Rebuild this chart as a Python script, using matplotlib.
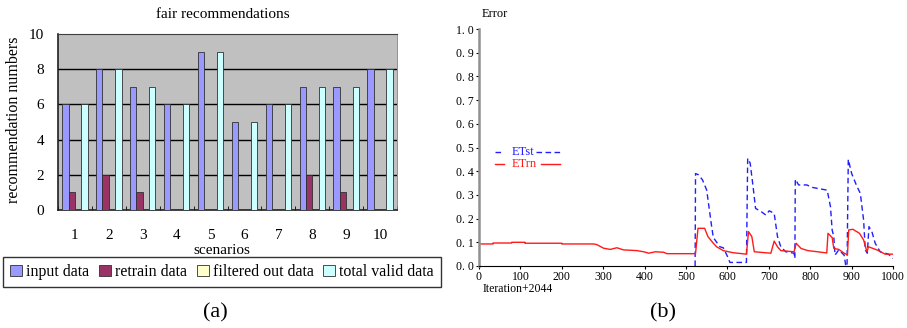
import matplotlib
matplotlib.use("Agg")
import matplotlib.pyplot as plt
from matplotlib.lines import Line2D
import numpy as np

# ---------------- data: panel (a) ----------------
scenarios = [1, 2, 3, 4, 5, 6, 7, 8, 9, 10]
input_data = [6, 8, 7, 6, 9, 5, 6, 7, 7, 8]
retrain_data = [1, 2, 1, 0, 0, 0, 0, 2, 1, 0]
filtered_out_data = [0, 0, 0, 0, 0, 0, 0, 0, 0, 0]
total_valid_data = [6, 8, 7, 6, 9, 5, 6, 7, 7, 8]
series_names = ["input data", "retrain data", "filtered out data", "total valid data"]
series_colors = ["#9999ff", "#993366", "#ffffcc", "#ccffff"]

# ---------------- data: panel (b) ----------------
etrn_x = [0, 34, 34, 79, 79, 111, 111, 200, 200, 277, 285, 301, 317, 333, 349, 381, 398, 410, 426,
          446, 454, 523, 529, 545, 553, 566, 574, 590, 614, 646, 651, 659, 665, 705, 713, 721,
          729, 761, 766, 778, 794, 818, 840, 843, 853, 857, 869, 882, 890, 893, 903, 919, 929,
          937, 941, 961, 981, 1000]
etrn_y = [0.093, 0.093, 0.097, 0.097, 0.1, 0.1, 0.096, 0.096, 0.093, 0.093, 0.09, 0.075, 0.07, 0.077,
          0.068, 0.065, 0.06, 0.054, 0.06, 0.058, 0.052, 0.052, 0.159, 0.159, 0.124, 0.096, 0.081,
          0.065, 0.056, 0.05, 0.145, 0.124, 0.06, 0.054, 0.105, 0.081, 0.065, 0.06, 0.096, 0.074,
          0.065, 0.06, 0.055, 0.138, 0.12, 0.074, 0.07, 0.054, 0.047, 0.152, 0.155, 0.138, 0.11,
          0.06, 0.081, 0.068, 0.05, 0.05]
etst_x = [522, 523, 530, 540, 550, 562, 566, 582, 590, 602, 606, 646, 649, 655, 662, 668, 681, 693,
          701, 713, 721, 729, 741, 761, 763, 764, 772, 792, 804, 841, 849, 853, 857, 860, 869, 882,
          886, 889, 892, 900, 913, 921, 929, 933, 938, 942, 949, 957, 969, 989, 1000]
etst_y = [0.0, 0.39, 0.385, 0.363, 0.32, 0.166, 0.12, 0.081, 0.077, 0.034, 0.015, 0.015, 0.454, 0.434,
          0.335, 0.243, 0.23, 0.215, 0.233, 0.222, 0.124, 0.081, 0.06, 0.054, 0.032, 0.366, 0.342,
          0.342, 0.332, 0.32, 0.25, 0.152, 0.124, 0.046, 0.068, 0.046, 0.0, 0.0, 0.45, 0.391, 0.335,
          0.307, 0.194, 0.068, 0.054, 0.166, 0.145, 0.096, 0.06, 0.05, 0.032]
x_ticks_b = [0, 100, 200, 300, 400, 500, 600, 700, 800, 900, 1000]
y_ticks_b = [0.0, 0.1, 0.2, 0.3, 0.4, 0.5, 0.6, 0.7, 0.8, 0.9, 1.0]

W, H = 907, 328
plt.rcParams["font.family"] = ["Liberation Serif", "DejaVu Serif"]
fig = plt.figure(figsize=(W / 100, H / 100), dpi=100)


def fx(px):
    return px / W


def fy(py):
    return 1 - py / H


# ---------------- panel (a) ----------------
ax = fig.add_axes([fx(58), fy(210), fx(397) - fx(58), fy(34) - fy(210)])
ax.set_facecolor("#c0c0c0")
bw = 0.1875
pos = np.array(scenarios, dtype=float)
allvals = [input_data, retrain_data, filtered_out_data, total_valid_data]
handles = []
for i, (vals, col, name) in enumerate(zip(allvals, series_colors, series_names)):
    b = ax.bar(pos + (i - 1.5) * bw, vals, width=bw, color=col, edgecolor="#303030",
               linewidth=0.6, label=name, zorder=3)
    handles.append(b)
ax.set_xlim(0.5, 10.5)
ax.set_ylim(0, 10)
ax.set_yticks([0, 2, 4, 6, 8, 10])
for yv in [2, 4, 6, 8]:
    ax.axhline(yv, color="black", linewidth=1.0, zorder=1)
ax.set_xticks(pos)
ax.set_xticklabels([str(s) for s in scenarios])
ax.set_xticks(np.arange(0.5, 11, 1), minor=True)
ax.tick_params(axis="x", which="major", length=0, pad=14, labelsize=11)
ax.tick_params(axis="x", which="minor", direction="in", length=3, color="black")
ax.tick_params(axis="y", length=0, pad=10, labelsize=11)
for s in ["left", "bottom"]:
    ax.spines[s].set_color("#202020")
    ax.spines[s].set_linewidth(1.2)
ax.spines["top"].set_color("#404040")
ax.spines["right"].set_color("#808080")
ax.spines["right"].set_linewidth(0.6)
fig.text(fx(223), fy(14), "fair recommendations", ha="center", va="center", fontsize=11)
fig.text(fx(14), fy(120), "recommendation numbers", ha="center", va="center", rotation=90, fontsize=11.5)
fig.text(fx(222), fy(250), "scenarios", ha="center", va="center", fontsize=11)
leg = fig.legend(handles=handles, loc="center", bbox_to_anchor=(fx(222), fy(272)), ncol=4,
                 fontsize=11.5, frameon=True, fancybox=False, edgecolor="black",
                 handlelength=0.75, handleheight=0.75, handletextpad=0.25, columnspacing=0.6,
                 borderpad=0.45, borderaxespad=0)
leg.get_frame().set_linewidth(1.0)
fig.text(fx(215), fy(313), "(a)", ha="center", va="center", fontsize=16)

# ---------------- panel (b) ----------------
bx = fig.add_axes([fx(479), fy(266), fx(893) - fx(479), fy(29) - fy(266)])
blue, red = "#1f1fff", "#ff1a1a"
dash = (0, (4, 2.5))
bx.plot(etst_x, etst_y, color=blue, linewidth=1.0, linestyle=dash, label="ETst")
bx.plot(etrn_x, etrn_y, color=red, linewidth=1.0, label="ETrn")
bx.set_xlim(0, 1000)
bx.set_ylim(0, 1.0)
bx.set_xticks(x_ticks_b)
bx.set_xticklabels([str(v) for v in x_ticks_b])
bx.set_yticks(y_ticks_b)
bx.set_yticklabels([f"{v:.1f}".replace(".", ". ") for v in y_ticks_b])
bx.tick_params(axis="both", labelsize=8.5, length=2.5, width=0.8, pad=1.2)
bx.spines["top"].set_visible(False)
bx.spines["right"].set_visible(False)
bx.spines["left"].set_color("#909090")
bx.spines["left"].set_linewidth(1.8)
bx.spines["bottom"].set_color("black")
bx.spines["bottom"].set_linewidth(0.8)
fig.text(fx(482), fy(14), "Error", ha="left", va="center", fontsize=9)
fig.text(fx(483), fy(289), "Iteration+2044", ha="left", va="center", fontsize=8.5)

# legend of panel (b): line segment, label, line segment
for yy, lab, col, ls, x_after in [(152, "ETst", blue, dash, 536), (164, "ETrn", red, "-", 541)]:
    fig.add_artist(Line2D([fx(495), fx(504)], [fy(yy), fy(yy)], color=col, linewidth=1.0,
                          linestyle=ls, transform=fig.transFigure))
    fig.text(fx(512), fy(yy), lab, color=col, ha="left", va="center", fontsize=9)
    fig.add_artist(Line2D([fx(x_after), fx(560)], [fy(yy), fy(yy)], color=col, linewidth=1.0,
                          linestyle=ls, transform=fig.transFigure))
fig.text(fx(663), fy(313), "(b)", ha="center", va="center", fontsize=16)

fig.savefig("out.png", dpi=100)
